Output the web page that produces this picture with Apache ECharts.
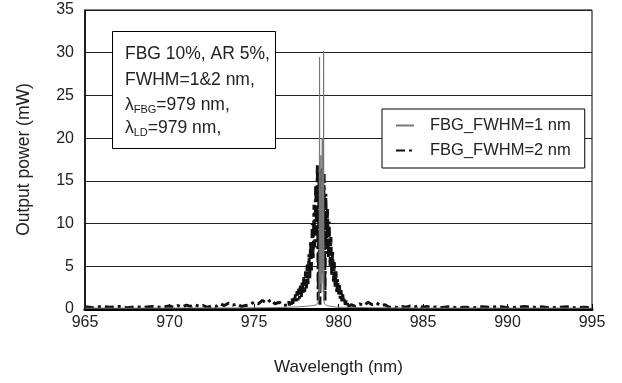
<!DOCTYPE html>
<html>
<head>
<meta charset="utf-8">
<script src="https://cdn.jsdelivr.net/npm/echarts@6/dist/echarts.min.js"></script>
<style>
  html, body { margin: 0; padding: 0; background: #fff; }
  #chart { width: 622px; height: 383px; }
</style>
</head>
<body>
<div id="chart"></div>
<script>
// axis ticks
const xTicks = [965, 970, 975, 980, 985, 990, 995]
const yTicks = [0, 5, 10, 15, 20, 25, 30, 35]

// FBG_FWHM=1 nm : thin grey trace (wavelength nm, power mW)
const fwhm1 = [
  [965.0, 0.1], [968.0, 0.1], [971.0, 0.12], [974.0, 0.12], [976.0, 0.15], [977.0, 0.2],
  [978.0, 0.3], [978.5, 0.4], [978.7, 0.5], [978.8, 0.6], [978.84, 1.0],
  [978.86, 8.0], [978.88, 29.5], [978.90, 2.0], [978.92, 14.0], [978.94, 3.0],
  [978.96, 18.0], [978.98, 4.0], [979.00, 15.0], [979.02, 3.0], [979.04, 20.0],
  [979.06, 4.0], [979.08, 14.0], [979.10, 2.0], [979.12, 30.2], [979.14, 1.0],
  [979.17, 0.6], [979.3, 0.4], [979.6, 0.3], [980.0, 0.2], [982.0, 0.15],
  [985.0, 0.1], [990.0, 0.1], [995.0, 0.1]
]

// FBG_FWHM=2 nm : thick dashed trace (wavelength nm, power mW)
const fwhm2 = [
  [965.0, 0.25], [965.5, 0.15], [966.0, 0.3], [966.5, 0.2], [967.0, 0.3], [967.5, 0.15],
  [968.0, 0.25], [968.5, 0.2], [969.0, 0.3], [969.5, 0.2], [970.0, 0.35],
  [970.25, 0.2], [970.5, 0.4], [970.75, 0.25], [971.0, 0.45], [971.25, 0.3],
  [971.5, 0.5], [971.75, 0.3], [972.0, 0.4], [972.25, 0.2], [972.5, 0.35],
  [972.75, 0.3], [973.0, 0.6], [973.25, 0.4], [973.5, 0.7], [973.75, 0.45],
  [974.0, 0.6], [974.25, 0.3], [974.5, 0.4], [974.75, 0.5], [975.0, 0.8],
  [975.25, 0.6], [975.5, 1.0], [975.75, 0.7], [976.0, 1.1], [976.25, 0.6],
  [976.5, 0.8], [976.75, 0.4],
  [977.00, 0.5], [977.05, 0.9], [977.10, 0.4], [977.15, 1.0], [977.20, 0.5],
  [977.25, 1.2], [977.30, 0.6], [977.35, 1.4], [977.40, 0.7], [977.45, 1.7],
  [977.50, 0.9], [977.55, 2.1], [977.60, 1.0], [977.65, 2.4], [977.70, 1.2],
  [977.75, 2.8], [977.80, 1.4], [977.85, 3.3], [977.90, 1.7], [977.95, 3.8],
  [978.00, 2.0], [978.05, 4.4], [978.10, 2.4], [978.15, 5.2], [978.20, 2.9],
  [978.25, 6.4], [978.30, 3.6], [978.35, 8.0], [978.40, 4.5], [978.45, 10.0],
  [978.50, 5.8], [978.55, 12.2], [978.60, 7.2], [978.65, 14.6], [978.70, 8.8],
  [978.75, 17.0], [978.80, 1.0], [978.85, 16.0], [978.90, 0.5], [978.95, 16.3],
  [979.00, 9.0], [979.05, 16.5], [979.10, 8.5], [979.15, 15.8], [979.20, 1.0],
  [979.25, 13.5], [979.30, 7.0], [979.35, 11.8], [979.40, 6.0], [979.45, 10.2],
  [979.50, 5.0], [979.55, 8.5], [979.60, 4.0], [979.65, 6.8], [979.70, 3.2],
  [979.75, 5.5], [979.80, 2.6], [979.85, 4.4], [979.90, 2.0], [979.95, 3.5],
  [980.00, 1.6], [980.05, 2.8], [980.10, 1.2], [980.15, 2.2], [980.20, 0.9],
  [980.25, 1.7], [980.30, 0.7], [980.35, 1.3], [980.40, 0.5], [980.45, 1.0],
  [980.50, 0.4], [980.55, 0.8], [980.60, 0.3],
  [980.75, 0.5], [981.0, 0.3], [981.25, 0.6], [981.5, 0.4], [981.75, 0.8],
  [982.0, 0.5], [982.25, 0.7], [982.5, 0.4], [982.75, 0.5], [983.0, 0.2],
  [983.25, 0.3], [983.5, 0.15], [983.75, 0.3], [984.0, 0.2], [984.25, 0.35],
  [984.5, 0.25], [984.75, 0.4], [985.0, 0.2], [985.25, 0.3], [985.5, 0.15],
  [985.75, 0.25], [986.0, 0.15], [986.5, 0.25], [987.0, 0.15], [987.5, 0.2],
  [988.0, 0.15], [988.5, 0.25], [989.0, 0.2], [989.5, 0.3], [990.0, 0.15],
  [990.5, 0.2], [991.0, 0.3], [991.5, 0.2], [992.0, 0.25], [992.5, 0.15],
  [993.0, 0.2], [993.5, 0.25], [994.0, 0.15], [994.5, 0.2], [995.0, 0.15]
]

const seriesNames = ['FBG_FWHM=1 nm', 'FBG_FWHM=2 nm']
const noteLines = ['FBG 10%, AR 5%,', 'FWHM=1&2 nm,', 'λ{s|FBG}=979 nm,', 'λ{s|LD}=979 nm,']

const font = 'Liberation Sans, Arial, sans-serif'
const chart = echarts.init(document.getElementById('chart'))

chart.setOption({
  animation: false,
  backgroundColor: '#fff',
  textStyle: { fontFamily: font },
  grid: {
    left: 85, right: 30, top: 10, bottom: 74,
    show: true, borderColor: '#000', borderWidth: 1
  },
  xAxis: {
    type: 'value',
    min: xTicks[0], max: xTicks[xTicks.length - 1], interval: 5,
    name: 'Wavelength (nm)', nameLocation: 'middle', nameGap: 50,
    nameTextStyle: { fontSize: 17, color: '#222', fontFamily: font },
    axisLine: { lineStyle: { color: '#000', width: 3 } },
    axisTick: { inside: true, length: 5, lineStyle: { color: '#000' } },
    axisLabel: { fontSize: 16, color: '#222', margin: 6, fontFamily: font },
    splitLine: { show: false }
  },
  yAxis: {
    type: 'value',
    min: yTicks[0], max: yTicks[yTicks.length - 1], interval: 5,
    name: 'Output power (mW)', nameLocation: 'middle', nameGap: 52,
    nameTextStyle: { fontSize: 17.5, color: '#222', fontFamily: font },
    axisLine: { show: true, lineStyle: { color: '#000', width: 1.5 } },
    axisTick: { show: false },
    axisLabel: { fontSize: 16, color: '#222', margin: 11, fontFamily: font },
    splitLine: { lineStyle: { color: '#222', width: 1 } }
  },
  legend: {
    data: seriesNames,
    left: 382, top: 109,
    orient: 'vertical',
    backgroundColor: '#fff',
    borderColor: '#000', borderWidth: 1, borderRadius: 0,
    padding: [8, 14, 9, 13],
    itemGap: 8,
    itemWidth: 18, itemHeight: 14,
    itemStyle: { color: 'rgba(0,0,0,0)', borderWidth: 0 },
    textStyle: { fontSize: 16.5, color: '#222', fontFamily: font, padding: [0, 0, 0, 11] }
  },
  series: [
    {
      name: seriesNames[0],
      type: 'line',
      data: fwhm1,
      showSymbol: false, symbol: 'none',
      z: 3,
      lineStyle: { color: '#777', width: 1 },
      itemStyle: { color: '#777' }
    },
    {
      name: seriesNames[1],
      type: 'line',
      data: fwhm2,
      showSymbol: false, symbol: 'none',
      z: 2,
      lineStyle: { color: '#111', width: 3, type: [9, 4, 3, 4] },
      itemStyle: { color: '#111' }
    }
  ],
  graphic: [
    {
      type: 'rect', left: 112, top: 31, z: 10,
      shape: { width: 163, height: 117 },
      style: { fill: '#fff', stroke: '#000', lineWidth: 1 }
    },
    ...noteLines.map((t, i) => ({
      type: 'text', left: 125, top: [45, 71, 96, 119][i], z: 11,
      style: {
        text: t, fill: '#222', fontSize: 17.5, fontFamily: font,
        rich: { s: { fontSize: 11, fontFamily: font, fill: '#222', padding: [9, 0, 0, 0] } }
      }
    }))
  ]
})
</script>
</body>
</html>
